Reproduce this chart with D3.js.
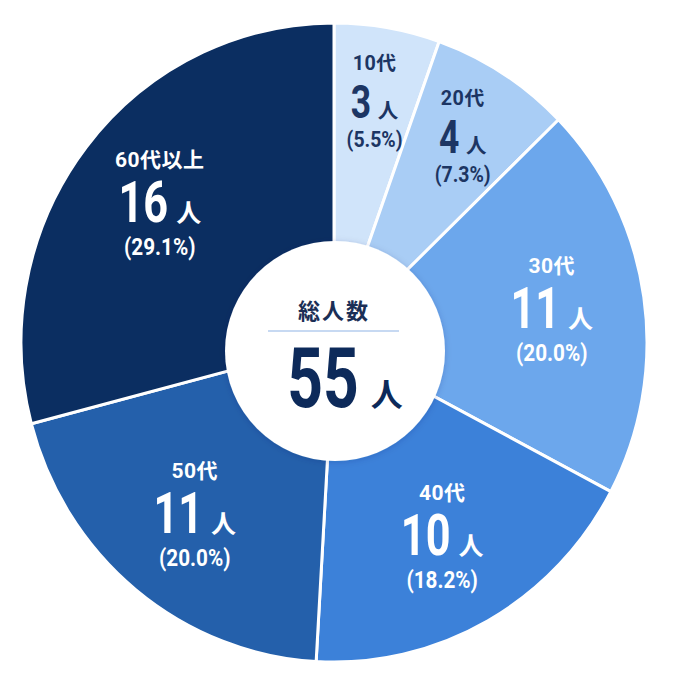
<!DOCTYPE html>
<html>
<head>
<meta charset="utf-8">
<script src="https://cdn.jsdelivr.net/npm/d3@7"></script>
<style>
  html, body { margin: 0; padding: 0; background: #fff; }
  svg { display: block; }
  text { font-family: Roboto, "Noto Sans CJK JP", sans-serif; font-weight: 700; }
</style>
</head>
<body>
<div id="chart"></div>
<script>
// Age groups and head counts
const categories = ["10代", "20代", "30代", "40代", "50代", "60代以上"];
const counts = [3, 4, 11, 10, 11, 16];
const sliceColors = ["#d0e4fa", "#a9cdf5", "#6ca7ec", "#3c81d9", "#2460ab", "#0b2e61"];
const totalTitle = "総人数";
const unit = "人";

const width = 681, height = 681;
// Pie is a touch taller than wide in the picture
const cx = 334, cy = 342.5, R = 313, yStretch = 1.021;

const data = categories.map((c, i) => ({ category: c, count: counts[i] }));
const total = d3.sum(counts);
const pct = d3.format(".1f");

const color = d3.scaleOrdinal().domain(categories).range(sliceColors);

const svg = d3.select("#chart").append("svg")
  .attr("width", width)
  .attr("height", height);

const defs = svg.append("defs");
const shadow = defs.append("filter").attr("id", "soft").attr("x", "-20%").attr("y", "-20%").attr("width", "140%").attr("height", "140%");
shadow.append("feDropShadow").attr("dx", 0).attr("dy", 1).attr("stdDeviation", 3)
  .attr("flood-color", "#0b2e61").attr("flood-opacity", 0.18);

const pie = d3.pie().sort(null).value(d => d.count);
const arcs = pie(data);
const arc = d3.arc().innerRadius(0).outerRadius(R);

// Slices
const pieG = svg.append("g").attr("transform", `translate(${cx},${cy}) scale(1,${yStretch})`);
pieG.selectAll("path.slice")
  .data(arcs)
  .join("path")
  .attr("class", "slice")
  .attr("d", arc)
  .attr("fill", d => color(d.data.category))
  .attr("stroke", "#fff")
  .attr("stroke-width", 3)
  .attr("vector-effect", "non-scaling-stroke")
  .attr("stroke-linejoin", "round");

// Per-slice labels: category / count 人 / (percent)
const labelLayer = svg.append("g");
arcs.forEach(d => {
  const span = d.endAngle - d.startAngle;
  const small = span < 0.5;
  const k = small ? 0.88 : 1;      // vertical spacing
  const kd = small ? 0.82 : 1;     // big digits
  const kt = small ? 0.94 : 1;     // small text lines
  const r = small ? 238 : 220;
  const [lx, ly] = d3.arc().innerRadius(r).outerRadius(r).centroid(d);
  const fill = d3.hsl(color(d.data.category)).l > 0.7 ? "#1c3563" : "#ffffff";

  const g = labelLayer.append("g")
    .attr("transform", `translate(${cx + lx},${cy + ly * yStretch})`)
    .attr("fill", fill);

  g.append("text")
    .attr("text-anchor", "middle")
    .attr("y", -38 * k)
    .attr("font-size", 21 * kt)
    .attr("letter-spacing", 0.5)
    .text(d.data.category);

  // count row, digits condensed
  const sx = 0.76;
  const row = g.append("g");
  const digits = row.append("text")
    .attr("font-size", 57 * kd)
    .text(d.data.count);
  const kanji = row.append("text")
    .attr("font-size", 25 * kd)
    .text(unit);
  const dw = digits.node().getComputedTextLength() * sx;
  const kw = kanji.node().getComputedTextLength();
  const gap = 8 * kd;
  const start = -(dw + gap + kw) / 2;
  digits.attr("transform", `translate(${start},${17 * k}) scale(${sx},1)`);
  kanji.attr("x", start + dw + gap).attr("y", 17 * k);

  g.append("text")
    .attr("text-anchor", "middle")
    .attr("transform", `translate(0,${50 * k}) scale(0.9,1)`)
    .attr("font-size", 23 * kt)
    .text(`(${pct(d.data.count / total * 100)}%)`);
});

// Centre disc with total
const center = svg.append("g");
center.append("circle")
  .attr("cx", 335).attr("cy", 351).attr("r", 110)
  .attr("fill", "#fff")
  .attr("filter", "url(#soft)");

center.append("text")
  .attr("x", 334).attr("y", 319)
  .attr("text-anchor", "middle")
  .attr("font-size", 22)
  .attr("letter-spacing", 2)
  .attr("fill", "#1b2f56")
  .text(totalTitle);

center.append("line")
  .attr("x1", 268).attr("x2", 399)
  .attr("y1", 331).attr("y2", 331)
  .attr("stroke", "#b5cdee")
  .attr("stroke-width", 1.5);

const totalRow = center.append("g").attr("fill", "#0d2a5a");
const tsx = 0.75;
const totalDigits = totalRow.append("text").attr("font-size", 83).text(total);
const totalUnit = totalRow.append("text").attr("font-size", 32).text(unit);
const tdw = totalDigits.node().getComputedTextLength() * tsx;
const tkw = totalUnit.node().getComputedTextLength();
const tgap = 12;
const tstart = 345 - (tdw + tgap + tkw) / 2;
totalDigits.attr("transform", `translate(${tstart},407) scale(${tsx},1)`);
totalUnit.attr("x", tstart + tdw + tgap).attr("y", 406);
</script>
</body>
</html>
